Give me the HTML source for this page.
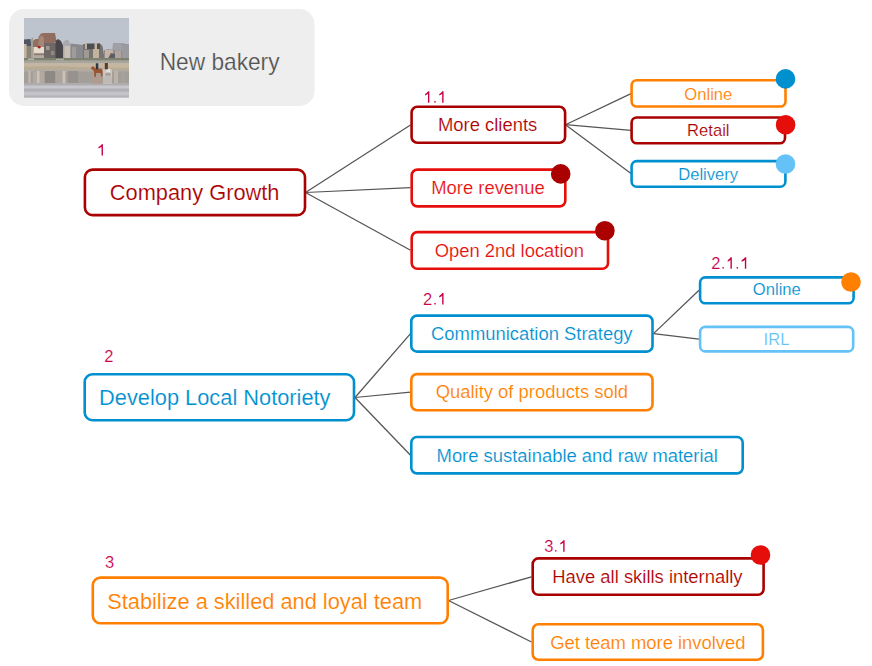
<!DOCTYPE html>
<html><head><meta charset="utf-8"><style>
html,body{margin:0;padding:0;background:#fff;width:872px;height:666px;overflow:hidden}
svg{position:absolute;left:0;top:0}
text{font-family:"Liberation Sans",sans-serif}
</style></head><body>
<svg width="872" height="666" viewBox="0 0 872 666">
<rect x="9" y="9" width="305.5" height="97" rx="15" fill="#eeeeee"/>
<defs>
<clipPath id="pc"><rect x="24" y="18" width="105" height="79.6"/></clipPath>
<filter id="pb" x="-5%" y="-5%" width="110%" height="110%"><feGaussianBlur stdDeviation="0.75"/></filter>
<linearGradient id="sky" x1="0" y1="0" x2="0" y2="1"><stop offset="0" stop-color="#bcc3cd"/><stop offset="1" stop-color="#c3c7cf"/></linearGradient>
<linearGradient id="beach" x1="0" y1="0" x2="0" y2="1"><stop offset="0" stop-color="#c3b7a4"/><stop offset="0.5" stop-color="#c6b69d"/><stop offset="1" stop-color="#bcae98"/></linearGradient>
<linearGradient id="wet" x1="0" y1="0" x2="0" y2="1"><stop offset="0" stop-color="#a39c94"/><stop offset="0.45" stop-color="#a19b96"/><stop offset="0.5" stop-color="#b4b3b9"/><stop offset="1" stop-color="#b9b8be"/></linearGradient>
</defs>
<g clip-path="url(#pc)">
<rect x="24" y="18" width="105" height="80" fill="url(#sky)"/>
<g filter="url(#pb)">
<path d="M24 39.5 L30.5 39 L31.5 46.5 L24 46.5 Z" fill="#4f5562"/>
<rect x="24" y="46" width="7" height="13" fill="#8a8479"/>
<rect x="24" y="44" width="2.6" height="15" fill="#c4b7a2"/>
<path d="M31 40 L32.2 36.5 L33.5 40 L33.5 59 L31 59 Z" fill="#a89f94"/>
<path d="M33 41 L35.5 39 L39 39 L39 47 L33 47 Z" fill="#8f6f62"/>
<path d="M37.5 47 L38.5 37 L41 33.5 L44 33 L55 33 L56.5 41.5 L53 43.5 L44 43.5 L44 47 Z" fill="#906d5e"/>
<path d="M38 47 L39 38 L41.5 35 L44 38 L44 47 Z" fill="#a58878"/>
<rect x="44" y="43" width="12" height="15.5" fill="#6f6866"/>
<rect x="46" y="46" width="3.5" height="4" fill="#a19a94"/>
<rect x="51" y="51" width="3.5" height="4" fill="#8f8984"/>
<path d="M55.5 41 L58 39 L61 41 L64 48 L64.5 58.5 L55.5 58.5 Z" fill="#49464a"/>
<rect x="34" y="47" width="10" height="6.5" fill="#e6dccd"/>
<circle cx="39.2" cy="47.2" r="1.4" fill="#b41c1c"/>
<rect x="34" y="53.3" width="10" height="2.3" fill="#8f7b6e"/>
<rect x="34" y="55.5" width="10" height="3" fill="#b1aba2"/>
<path d="M63 43 L65.5 40 L67.5 39.5 L69.5 42 L70.5 45 L70.5 58.5 L63 58.5 Z" fill="#a9a8ad"/>
<rect x="64.5" y="46" width="5.5" height="12" fill="#cbbfb4"/>
<path d="M70.5 43.5 L76 44 L83 45 L83 58.5 L70.5 58.5 Z" fill="#8a898d"/>
<rect x="72" y="47" width="4" height="11" fill="#a09c98"/>
<path d="M83 44 L100 43.6 L102.5 46 L104 55 L104 58.5 L83 58.5 Z" fill="#77736f"/>
<rect x="87" y="43.6" width="13" height="5.5" fill="#4d4d56"/>
<rect x="85" y="43" width="2" height="6" fill="#bfb19a"/>
<rect x="94.5" y="43" width="2.5" height="6" fill="#c4b49c"/>
<rect x="93" y="49" width="6" height="9.5" fill="#c2b39e"/>
<rect x="84" y="50" width="5" height="8.5" fill="#9f9a94"/>
<path d="M104 50 L108 49.3 L112.5 49.5 L113 43.3 L122 43.3 L129 44.5 L129 58.5 L104 58.5 Z" fill="#8d8c92"/>
<rect x="105" y="50" width="8" height="8.5" fill="#c6b3a3"/>
<path d="M108 58.5 L111 53 L115 54 L115 58.5 Z" fill="#5d5d68"/>
<rect x="113" y="43.3" width="9" height="7" fill="#a0a0a8"/>
<rect x="115" y="50.5" width="6" height="8" fill="#b1a49c"/>
<rect x="122" y="44.5" width="7" height="14" fill="#9b9a9f"/>
<rect x="24" y="58" width="105" height="2.8" fill="#7b8170"/>
<rect x="28" y="58.5" width="6" height="1.5" fill="#b9b7ac"/>
<rect x="56" y="58.8" width="8" height="1.5" fill="#aeaca4"/>
<rect x="24" y="60.5" width="105" height="3" fill="#aaa59a"/>
<rect x="24" y="63.2" width="105" height="7" fill="url(#beach)"/>
<path d="M24 66.5 L60 66 L90 67.5 L129 68 L129 70.3 L24 70.3 Z" fill="#b3a894" opacity="0.7"/>
<rect x="24" y="70" width="105" height="14" fill="#a49e98"/>
<rect x="24" y="70" width="105" height="1.5" fill="#b1aba5"/>
<rect x="28.5" y="71" width="2" height="12" fill="#c2bbb1"/>
<rect x="33" y="72" width="11" height="11" fill="#b2a9a2"/>
<rect x="37" y="71" width="2.5" height="12" fill="#cdc3b6"/>
<rect x="45" y="71" width="10" height="12.5" fill="#8f8985"/>
<rect x="56" y="71" width="7" height="12" fill="#aba49d"/>
<rect x="62.5" y="71" width="3" height="12.5" fill="#cbc2b5"/>
<rect x="68" y="71" width="10" height="12" fill="#98928e"/>
<rect x="114" y="71" width="4" height="12.5" fill="#bcb4aa"/>
<rect x="121" y="71" width="4" height="12" fill="#a7a19b"/>
<rect x="24" y="83.5" width="105" height="15" fill="#bbbac1"/>
<rect x="24" y="83.5" width="105" height="1.5" fill="#aeacae"/>
<rect x="24" y="86" width="105" height="2" fill="#c8c7ce"/>
<rect x="24" y="89.5" width="105" height="1.5" fill="#adabad"/>
<rect x="24" y="92.5" width="105" height="2.2" fill="#c6c5cb"/>
<rect x="24" y="96" width="105" height="2" fill="#b3b2b6"/>
<rect x="92.5" y="74.5" width="9.5" height="9.5" fill="#b59a8c" opacity="0.7"/>
<rect x="103" y="75.5" width="9" height="8.5" fill="#ccc6c1" opacity="0.7"/>
<path d="M90.8 68.3 L92.3 66.2 L94 66.8 L95.6 68.8 L101.2 68.6 L102.6 70.2 L102.4 76.5 L101.1 76.5 L100.6 73 L96.2 73 L95.8 77 L94.4 77 L94 71.2 L92 69.3 Z" fill="#9c5532"/>
<rect x="95.8" y="63.3" width="2.5" height="6" fill="#2e3745"/>
<path d="M102.8 69.3 L108 68.8 L111.8 69.6 L112.3 76.5 L111 76.5 L110.5 73 L105.7 73 L104.8 77 L103.4 77 Z" fill="#cdc7c2"/>
<rect x="106.3" y="68.8" width="4" height="3.2" fill="#e4dfd8"/>
<rect x="104.8" y="63" width="3.1" height="6.3" fill="#5a3d33"/>
</g>
</g>

<line x1="305.5" y1="192.5" x2="410.5" y2="125" stroke="#555" stroke-width="1.25"/>
<line x1="305.5" y1="192.5" x2="410.5" y2="187.6" stroke="#555" stroke-width="1.25"/>
<line x1="305.5" y1="192.5" x2="410.5" y2="250.3" stroke="#555" stroke-width="1.25"/>
<line x1="565.5" y1="124.7" x2="631" y2="93.6" stroke="#555" stroke-width="1.25"/>
<line x1="565.5" y1="124.7" x2="631" y2="130.3" stroke="#555" stroke-width="1.25"/>
<line x1="565.5" y1="124.7" x2="631" y2="173.6" stroke="#555" stroke-width="1.25"/>
<line x1="355" y1="397.5" x2="410.5" y2="333.6" stroke="#555" stroke-width="1.25"/>
<line x1="355" y1="397.5" x2="410.5" y2="392.1" stroke="#555" stroke-width="1.25"/>
<line x1="355" y1="397.5" x2="410.5" y2="455.3" stroke="#555" stroke-width="1.25"/>
<line x1="653.5" y1="333.6" x2="699" y2="290.3" stroke="#555" stroke-width="1.25"/>
<line x1="653.5" y1="333.6" x2="699" y2="339.1" stroke="#555" stroke-width="1.25"/>
<line x1="448.5" y1="600.5" x2="531.5" y2="576.8" stroke="#555" stroke-width="1.25"/>
<line x1="448.5" y1="600.5" x2="531.5" y2="642.0" stroke="#555" stroke-width="1.25"/>
<rect x="84.90" y="169.60" width="220.10" height="45.50" rx="7.7" fill="#fff" stroke="#aa0000" stroke-width="2.6"/>
<rect x="411.60" y="106.80" width="153.50" height="35.90" rx="5.7" fill="#fff" stroke="#aa0000" stroke-width="2.6"/>
<rect x="411.70" y="169.60" width="153.60" height="36.80" rx="5.7" fill="#fff" stroke="#e60e0b" stroke-width="2.6"/>
<rect x="411.70" y="232.10" width="196.30" height="36.70" rx="5.7" fill="#fff" stroke="#e60e0b" stroke-width="2.6"/>
<rect x="631.60" y="80.20" width="153.90" height="26.30" rx="5.2" fill="#fff" stroke="#ff7f00" stroke-width="2.6"/>
<rect x="631.60" y="117.50" width="153.40" height="25.80" rx="5.2" fill="#fff" stroke="#aa0000" stroke-width="2.6"/>
<rect x="631.60" y="161.10" width="153.80" height="25.60" rx="5.2" fill="#fff" stroke="#0090d0" stroke-width="2.6"/>
<rect x="84.70" y="374.30" width="269.30" height="45.90" rx="7.7" fill="#fff" stroke="#0090d0" stroke-width="2.6"/>
<rect x="411.30" y="315.60" width="241.20" height="36.00" rx="5.7" fill="#fff" stroke="#0090d0" stroke-width="2.6"/>
<rect x="411.30" y="374.10" width="241.20" height="36.10" rx="5.7" fill="#fff" stroke="#ff7f00" stroke-width="2.6"/>
<rect x="411.30" y="437.00" width="331.40" height="36.40" rx="5.7" fill="#fff" stroke="#0090d0" stroke-width="2.6"/>
<rect x="700.10" y="277.40" width="153.50" height="25.90" rx="5.2" fill="#fff" stroke="#0090d0" stroke-width="2.6"/>
<rect x="700.10" y="326.90" width="153.10" height="24.50" rx="5.2" fill="#fff" stroke="#64c2f7" stroke-width="2.6"/>
<rect x="92.80" y="577.60" width="354.90" height="45.70" rx="7.7" fill="#fff" stroke="#ff7f00" stroke-width="2.6"/>
<rect x="532.70" y="558.40" width="230.90" height="36.40" rx="5.7" fill="#fff" stroke="#aa0000" stroke-width="2.6"/>
<rect x="532.70" y="624.30" width="230.20" height="35.40" rx="5.7" fill="#fff" stroke="#ff7f00" stroke-width="2.6"/>
<circle cx="560.7" cy="173.9" r="9.8" fill="#aa0000"/>
<circle cx="604.9" cy="230.8" r="9.8" fill="#aa0000"/>
<circle cx="785.5" cy="78.9" r="9.8" fill="#0090d0"/>
<circle cx="785.6" cy="124.8" r="9.8" fill="#e60e0b"/>
<circle cx="785.5" cy="164.0" r="9.8" fill="#64c2f7"/>
<circle cx="851.0" cy="282.0" r="9.8" fill="#ff7f00"/>
<circle cx="760.5" cy="555.0" r="9.8" fill="#e60e0b"/>
<path d="M101.55 155.60 L101.55 146.80 Q100.35 147.80 98.50 148.60 L98.50 147.10 Q100.75 145.80 101.75 144.20 L102.95 144.20 L102.95 155.60 Z" fill="#c8004a"/>
<path d="M427.95 102.70 L427.95 93.80 Q426.75 94.80 425.10 95.60 L425.10 94.10 Q427.15 92.80 428.15 91.20 L429.35 91.20 L429.35 102.70 Z" fill="#c8004a"/>
<path d="M442.15 102.70 L442.15 93.80 Q440.95 94.80 439.30 95.60 L439.30 94.10 Q441.35 92.80 442.35 91.20 L443.55 91.20 L443.55 102.70 Z" fill="#c8004a"/>
<path d="M442.15 304.60 L442.15 295.70 Q440.95 296.70 439.20 297.50 L439.20 296.00 Q441.35 294.70 442.35 293.10 L443.55 293.10 L443.55 304.60 Z" fill="#c8004a"/>
<path d="M730.45 268.70 L730.45 259.90 Q729.25 260.90 727.70 261.70 L727.70 260.20 Q729.65 258.90 730.65 257.30 L731.85 257.30 L731.85 268.70 Z" fill="#c8004a"/>
<path d="M744.85 268.70 L744.85 259.90 Q743.65 260.90 741.60 261.70 L741.60 260.20 Q744.05 258.90 745.05 257.30 L746.25 257.30 L746.25 268.70 Z" fill="#c8004a"/>
<path d="M563.20 551.70 L563.20 542.75 Q562.00 543.75 560.30 544.55 L560.30 543.05 Q562.40 541.75 563.40 540.15 L564.60 540.15 L564.60 551.70 Z" fill="#c8004a"/>
<rect x="434.30" y="101.10" width="1.45" height="1.45" fill="#c8004a"/>
<rect x="434.30" y="303.00" width="1.45" height="1.45" fill="#c8004a"/>
<rect x="722.40" y="267.10" width="1.45" height="1.45" fill="#c8004a"/>
<rect x="736.60" y="267.10" width="1.45" height="1.45" fill="#c8004a"/>
<rect x="555.00" y="550.10" width="1.45" height="1.45" fill="#c8004a"/>
<g transform="translate(159.67 70.00) scale(0.9544 1)"><text x="0" y="0" font-size="23.8" fill="#555555" stroke="#fff" stroke-width="0.2" stroke-opacity="0.9">New bakery</text></g>
<text x="109.85" y="199.79" font-size="21.8" fill="#aa0000" stroke="#fff" stroke-width="0.2" stroke-opacity="0.9">Company Growth</text>
<text x="438.04" y="131.10" font-size="18.42" fill="#aa0000" stroke="#fff" stroke-width="0.2" stroke-opacity="0.9">More clients</text>
<text x="431.23" y="193.80" font-size="18.42" fill="#e60e0b" stroke="#fff" stroke-width="0.2" stroke-opacity="0.9">More revenue</text>
<text x="434.64" y="256.90" font-size="18.42" fill="#e60e0b" stroke="#fff" stroke-width="0.2" stroke-opacity="0.9">Open 2nd location</text>
<text x="684.35" y="99.90" font-size="16.6" fill="#ff7f00" stroke="#fff" stroke-width="0.2" stroke-opacity="0.9">Online</text>
<text x="687.08" y="135.90" font-size="16.6" fill="#aa0000" stroke="#fff" stroke-width="0.2" stroke-opacity="0.9">Retail</text>
<text x="678.18" y="179.60" font-size="16.6" fill="#0090d0" stroke="#fff" stroke-width="0.2" stroke-opacity="0.9">Delivery</text>
<text x="99.10" y="404.90" font-size="21.8" fill="#0090d0" stroke="#fff" stroke-width="0.2" stroke-opacity="0.9">Develop Local Notoriety</text>
<text x="431.04" y="339.80" font-size="18.42" fill="#0090d0" stroke="#fff" stroke-width="0.2" stroke-opacity="0.9">Communication Strategy</text>
<text x="435.69" y="397.80" font-size="18.42" fill="#ff7f00" stroke="#fff" stroke-width="0.2" stroke-opacity="0.9">Quality of products sold</text>
<text x="436.56" y="461.90" font-size="18.42" fill="#0090d0" stroke="#fff" stroke-width="0.2" stroke-opacity="0.9">More sustainable and raw material</text>
<text x="752.85" y="295.20" font-size="16.6" fill="#0090d0" stroke="#fff" stroke-width="0.2" stroke-opacity="0.9">Online</text>
<text x="763.62" y="345.10" font-size="16.6" fill="#64c2f7" stroke="#fff" stroke-width="0.2" stroke-opacity="0.9">IRL</text>
<text x="107.19" y="608.90" font-size="21.8" fill="#ff7f00" stroke="#fff" stroke-width="0.2" stroke-opacity="0.9">Stabilize a skilled and loyal team</text>
<text x="552.29" y="582.88" font-size="18.42" fill="#aa0000" stroke="#fff" stroke-width="0.2" stroke-opacity="0.9">Have all skills internally</text>
<text x="550.14" y="649.00" font-size="18.42" fill="#ff7f00" stroke="#fff" stroke-width="0.2" stroke-opacity="0.9">Get team more involved</text>
<text x="104.31" y="361.89" font-size="16.5" fill="#c8004a" stroke="#fff" stroke-width="0.2" stroke-opacity="0.9">2</text>
<text x="423.11" y="304.79" font-size="16.5" fill="#c8004a" stroke="#fff" stroke-width="0.2" stroke-opacity="0.9">2</text>
<text x="711.21" y="268.99" font-size="16.5" fill="#c8004a" stroke="#fff" stroke-width="0.2" stroke-opacity="0.9">2</text>
<text x="104.91" y="568.49" font-size="16.5" fill="#c8004a" stroke="#fff" stroke-width="0.2" stroke-opacity="0.9">3</text>
<text x="544.21" y="551.84" font-size="16.5" fill="#c8004a" stroke="#fff" stroke-width="0.2" stroke-opacity="0.9">3</text>
</svg></body></html>
